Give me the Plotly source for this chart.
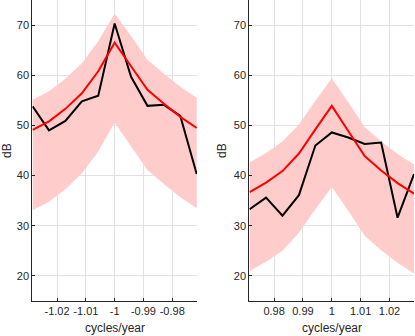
import plotly.graph_objects as go
from plotly.subplots import make_subplots

# frequencies (cycles/year)
freq_neg = [-1.0285, -1.0228, -1.0171, -1.0114, -1.0057, -1.0, -0.9943, -0.9886, -0.9829, -0.9772, -0.9715]
freq_pos = [0.9715, 0.9772, 0.9829, 0.9886, 0.9943, 1.0, 1.0057, 1.0114, 1.0171, 1.0228, 1.0285]

# spectra (dB)
obs_neg = [53.8, 49.0, 50.9, 54.8, 55.9, 70.3, 59.7, 53.9, 54.1, 51.9, 40.3]
fit_neg = [49.1, 50.8, 53.3, 56.4, 60.8, 66.5, 61.8, 57.1, 54.3, 51.7, 49.5]
upper_neg = [55.1, 56.8, 59.3, 62.4, 66.8, 72.3, 67.8, 63.1, 60.3, 57.7, 55.5]
lower_neg = [33.1, 34.8, 37.3, 40.4, 44.8, 50.6, 45.8, 41.1, 38.3, 35.7, 33.5]

obs_pos = [33.3, 35.6, 32.0, 36.1, 46.0, 48.6, 47.6, 46.3, 46.6, 31.6, 40.3]
fit_pos = [36.7, 38.6, 40.9, 44.4, 49.2, 53.9, 48.9, 43.9, 41.0, 38.5, 36.4]
upper_pos = [42.6, 44.5, 46.8, 50.2, 54.9, 59.4, 54.6, 49.7, 46.8, 44.3, 42.2]
lower_pos = [21.0, 22.8, 25.0, 28.6, 33.3, 37.7, 33.0, 28.0, 25.1, 22.6, 20.5]

ticks_neg = [-1.02, -1.01, -1.0, -0.99, -0.98]
ticklbl_neg = ['-1.02', '-1.01', '-1', '-0.99', '-0.98']
ticks_pos = [0.98, 0.99, 1.0, 1.01, 1.02]
ticklbl_pos = ['0.98', '0.99', '1', '1.01', '1.02']
yticks = [20, 30, 40, 50, 60, 70]

BAND = 'rgb(255,204,204)'
TXT = '#262626'

fig = make_subplots(rows=1, cols=2)

def add_panel(col, f, obs, fit, up, lo):
    fig.add_trace(go.Scatter(x=f, y=lo, mode='lines', line=dict(width=0),
                             showlegend=False, hoverinfo='skip'), row=1, col=col)
    fig.add_trace(go.Scatter(x=f, y=up, mode='lines', line=dict(width=0),
                             fill='tonexty', fillcolor=BAND,
                             showlegend=False, hoverinfo='skip'), row=1, col=col)
    fig.add_trace(go.Scatter(x=f, y=obs, mode='lines', line=dict(color='black', width=2),
                             showlegend=False), row=1, col=col)
    fig.add_trace(go.Scatter(x=f, y=fit, mode='lines', line=dict(color='red', width=2),
                             showlegend=False), row=1, col=col)

add_panel(1, freq_neg, obs_neg, fit_neg, upper_neg, lower_neg)
add_panel(2, freq_pos, obs_pos, fit_pos, upper_pos, lower_pos)

W, H = 415, 336
ax_common = dict(showgrid=True, gridcolor='rgb(225,225,225)', gridwidth=1,
                 showline=True, linecolor=TXT, linewidth=1, ticks='inside',
                 ticklen=3, tickcolor=TXT, zeroline=False,
                 tickfont=dict(size=11, color=TXT))

fig.update_xaxes(ax_common)
fig.update_yaxes(ax_common)
fig.update_xaxes(domain=[32.3 / W, 197 / W], range=[-1.0286, -0.9714],
                 tickvals=ticks_neg, ticktext=ticklbl_neg, row=1, col=1)
fig.update_xaxes(domain=[249.3 / W, 414.3 / W], range=[0.9714, 1.0286],
                 tickvals=ticks_pos, ticktext=ticklbl_pos, row=1, col=2)
fig.update_yaxes(domain=[35 / H, 1], range=[15, 75], tickvals=yticks)

for xc, xl in [((32.3 + 197) / 2, 7), ((249.3 + 414.3) / 2, 222)]:
    fig.add_annotation(text='cycles/year', x=xc / W, y=(336 - 328) / H, xref='paper', yref='paper',
                       showarrow=False, font=dict(size=12, color=TXT), xanchor='center', yanchor='middle')
    fig.add_annotation(text='dB', x=xl / W, y=(336 - 151) / H, xref='paper', yref='paper',
                       showarrow=False, textangle=-90, font=dict(size=12, color=TXT),
                       xanchor='center', yanchor='middle')

fig.update_layout(width=W, height=H, margin=dict(l=0, r=0, t=0, b=0),
                  paper_bgcolor='white', plot_bgcolor='white',
                  font=dict(family='Liberation Sans, Arial, sans-serif', color=TXT))

# drop the browser's default 8px body margin so the figure sits at the page corner
fig.write_html("out.html", config={'displayModeBar': False},
               post_script="document.body.style.margin='0';")
